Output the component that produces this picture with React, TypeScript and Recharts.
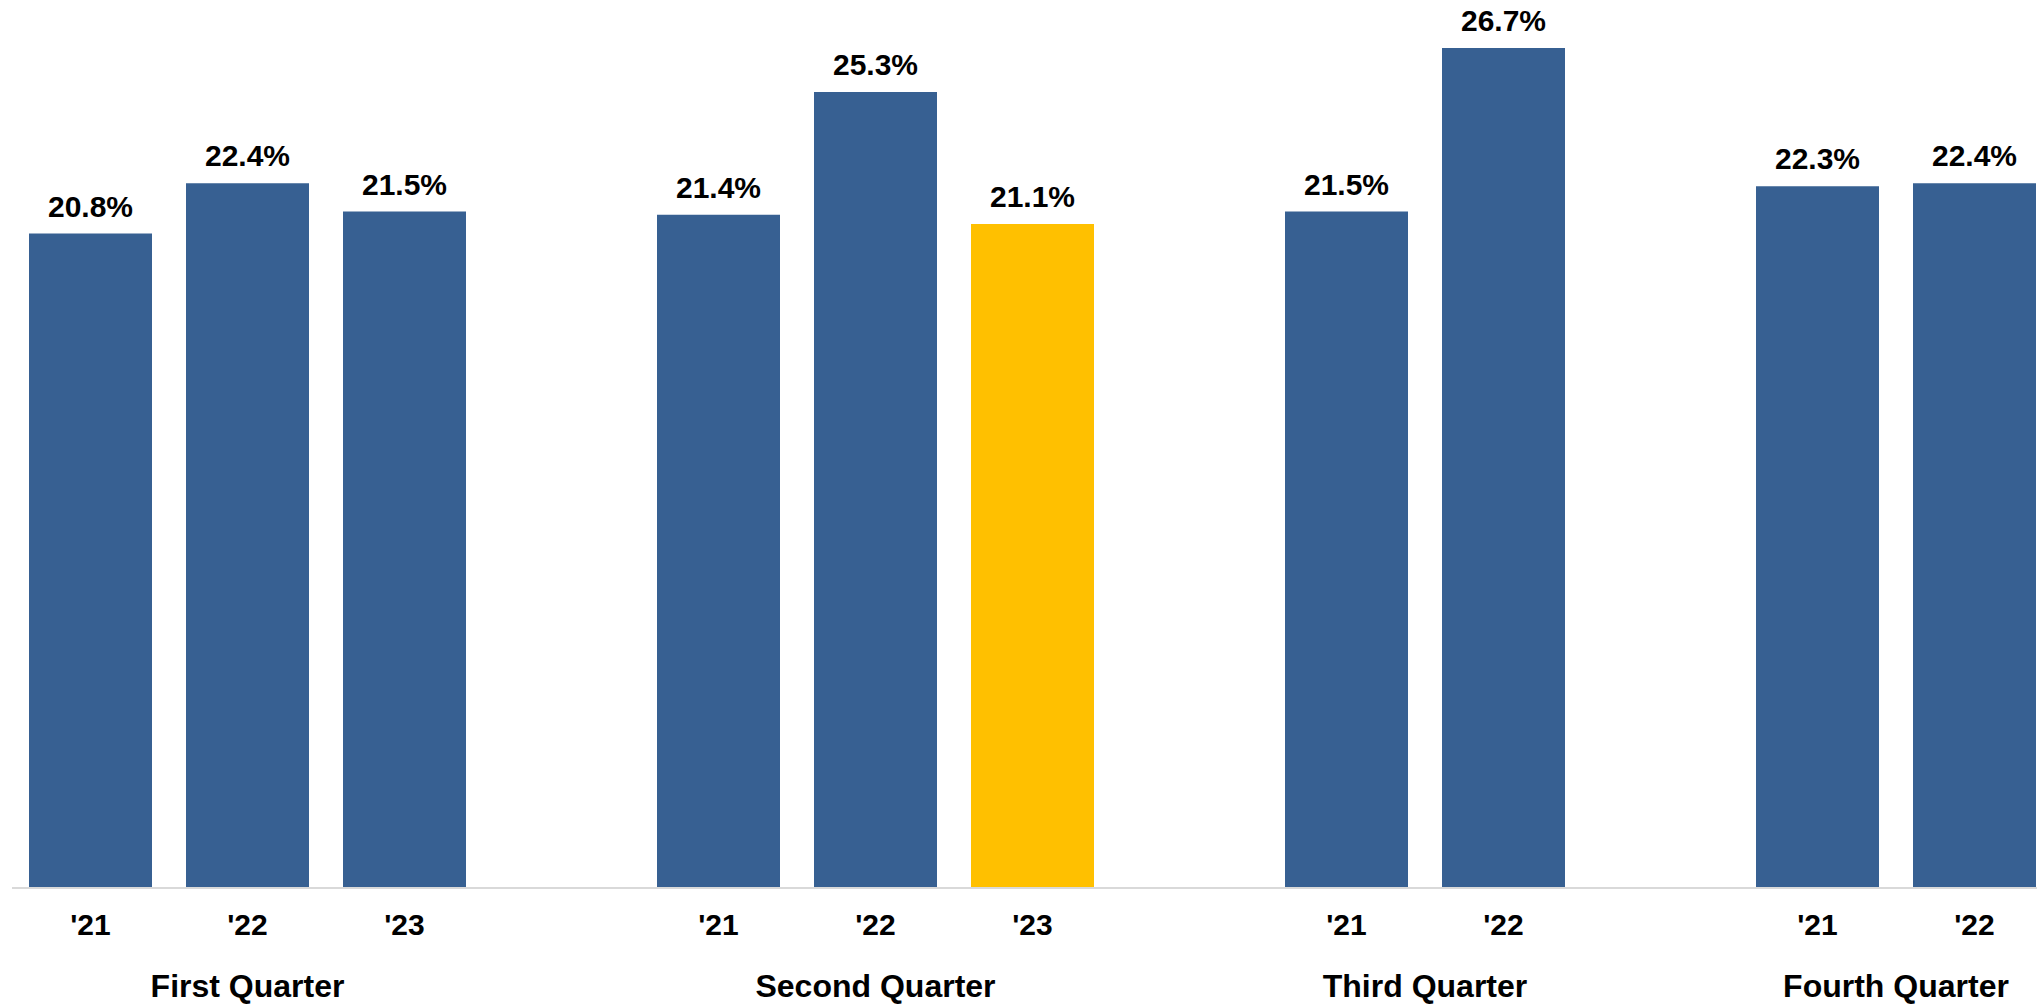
import { BarChart, Bar, XAxis, YAxis, Cell, LabelList } from "recharts";

// one slot per bar; empty slots separate the quarters
const yearLabels = ["'21", "'22", "'23", "", "'21", "'22", "'23", "", "'21", "'22", "", "'21", "'22"];
const rateValues = [20.8, 22.4, 21.5, null, 21.4, 25.3, 21.1, null, 21.5, 26.7, null, 22.3, 22.4];
const highlightIndex = 6;

const quarterLabels = ["First Quarter", "Second Quarter", "Third Quarter", "Fourth Quarter"];
const quarterStart = [0, 4, 8, 11];
const quarterSize = [3, 3, 2, 2];

const BLUE = "#376092";
const GOLD = "#FFC000";
const FONT = "'Liberation Sans', Arial, sans-serif";

const MARGIN = { top: 7, right: 0, bottom: 0, left: 12 };
const PLOT_W = 2041;
const CHART_W = MARGIN.left + PLOT_W + MARGIN.right;
const CHART_H = 1005;
const AXIS_H = 117;
const BAND = PLOT_W / yearLabels.length;

const rows = yearLabels.map((year, i) => ({ id: i, year, value: rateValues[i] }));

function YearTick(props: any) {
  const { x, y, index } = props;
  const q = quarterStart.indexOf(index);
  return (
    <g>
      <text
        x={x}
        y={y + 47}
        textAnchor="middle"
        fontFamily={FONT}
        fontWeight="bold"
        fontSize={30}
        fill="#000"
      >
        {yearLabels[index]}
      </text>
      {q >= 0 && (
        <text
          x={x + ((quarterSize[q] - 1) * BAND) / 2}
          y={y + 109}
          textAnchor="middle"
          fontFamily={FONT}
          fontWeight="bold"
          fontSize={32}
          fill="#000"
        >
          {quarterLabels[q]}
        </text>
      )}
    </g>
  );
}

function ValueLabel(props: any) {
  const { x, y, width, value } = props;
  if (value == null) return null;
  return (
    <text
      x={x + width / 2}
      y={y - 17}
      textAnchor="middle"
      fontFamily={FONT}
      fontWeight="bold"
      fontSize={30}
      fill="#000"
    >
      {`${Number(value).toFixed(1)}%`}
    </text>
  );
}

export default function App() {
  return (
    <div
      style={{
        position: "absolute",
        left: 0,
        top: 0,
        width: 2037,
        height: 1005,
        overflow: "hidden",
        background: "#fff",
      }}
    >
      <BarChart width={CHART_W} height={CHART_H} data={rows} margin={MARGIN}>
        <XAxis
          dataKey="id"
          type="category"
          interval={0}
          height={AXIS_H}
          tickLine={false}
          tickSize={0}
          tickMargin={0}
          axisLine={{ stroke: "#D9D9D9", strokeWidth: 2 }}
          tick={<YearTick />}
        />
        <YAxis hide domain={[0, 28]} />
        <Bar dataKey="value" barSize={123} isAnimationActive={false}>
          {rows.map((r, i) => (
            <Cell key={r.id} fill={i === highlightIndex ? GOLD : BLUE} />
          ))}
          <LabelList dataKey="value" content={<ValueLabel />} />
        </Bar>
      </BarChart>
    </div>
  );
}
